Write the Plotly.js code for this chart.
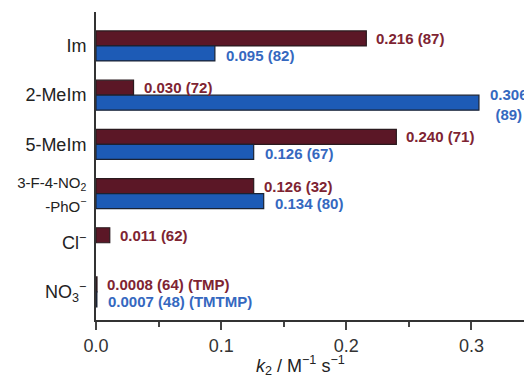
<!DOCTYPE html>
<html><head><meta charset="utf-8">
<script src="https://cdn.plot.ly/plotly-3.0.1.min.js"></script>
<style>html,body{margin:0;padding:0;background:#fff;}#chart{width:524px;height:377px;}</style>
</head><body><div id="chart"></div>
<script>
const categories = ['Im', '2-MeIm', '5-MeIm', '3-F-4-NO2-PhO-', 'Cl-', 'NO3-'];
const categoryLabels = ['Im', '2-MeIm', '5-MeIm',
  '<span style="font-size:15px">3-F-4-NO<sub>2</sub><br>-PhO<sup>−</sup></span>',
  'Cl<sup>−</sup>', 'NO<sub>3</sub><sup>−</sup>'];
const tmpValues = [0.216, 0.030, 0.240, 0.126, 0.011, 0.0008];
const tmtmpValues = [0.095, 0.306, 0.126, 0.134, null, 0.0007];
const tmpLabels = ['0.216 (87)', '0.030 (72)', '0.240 (71)', '0.126 (32)', '0.011 (62)', '0.0008 (64) (TMP)'];
const tmtmpLabels = ['0.095 (82)', '0.306<br>(89)', '0.126 (67)', '0.134 (80)', null, '0.0007 (48) (TMTMP)'];
const xTitle = '<i>k</i><sub>2</sub> / M<sup>−1</sup> s<sup>−1</sup>';

const FONT = 'Liberation Sans, Arial, Helvetica, sans-serif';
const BARGAP = 0.39;
const slot = (1 - BARGAP) / 4;

const traces = [
  {type: 'bar', orientation: 'h', name: 'TMP', y: categories, x: tmpValues,
   marker: {color: '#5b1726', line: {color: '#2a1a1e', width: 1.2}}, hoverinfo: 'skip'},
  {type: 'bar', orientation: 'h', name: 'TMTMP', y: categories, x: tmtmpValues,
   marker: {color: '#1d5bb6', line: {color: '#1a2233', width: 1.2}}, hoverinfo: 'skip'}
];

const annotations = [];
categories.forEach((c, i) => {
  if (tmpValues[i] != null && tmpLabels[i]) {
    annotations.push({x: tmpValues[i], y: i - slot, xref: 'x', yref: 'y', text: tmpLabels[i],
      showarrow: false, xanchor: 'left', yanchor: 'middle', xshift: 8, yshift: 0,
      font: {family: FONT, size: 15, color: '#7e2432', weight: 'bold'}});
  }
  if (tmtmpValues[i] != null && tmtmpLabels[i]) {
    annotations.push({x: tmtmpValues[i], y: i + slot, xref: 'x', yref: 'y', text: tmtmpLabels[i],
      showarrow: false, xanchor: 'left', yanchor: 'middle', align: 'center', xshift: 9, yshift: -2,
      font: {family: FONT, size: 15, color: '#3568bf', weight: 'bold'}});
  }
});
annotations.push({x: 0.477, y: 0, xref: 'paper', yref: 'paper', text: xTitle, showarrow: false,
  xanchor: 'center', yanchor: 'middle', yshift: -45,
  font: {family: FONT, size: 18, color: '#222'}});

const layout = {
  width: 524, height: 377,
  margin: {l: 96, r: 0, t: 12, b: 57},
  paper_bgcolor: '#fff', plot_bgcolor: '#fff',
  showlegend: false,
  barmode: 'group', bargap: BARGAP, bargroupgap: 0,
  font: {family: FONT, color: '#222'},
  xaxis: {
    range: [0, 0.342], tickmode: 'linear', tick0: 0, dtick: 0.1, tickformat: '.1f',
    ticks: 'outside', ticklen: 8, tickwidth: 2, tickcolor: '#444',
    minor: {tick0: 0, dtick: 0.05, ticks: 'outside', ticklen: 5, tickwidth: 2, tickcolor: '#444', showgrid: false},
    showgrid: false, zeroline: false, showline: true, linewidth: 2, linecolor: '#333',
    tickfont: {family: FONT, size: 18, color: '#333'},
    automargin: false, fixedrange: true
  },
  yaxis: {
    type: 'category', range: [5.57, -0.69],
    tickmode: 'array', tickvals: categories, ticktext: categoryLabels,
    ticks: 'outside', ticklen: 4, tickcolor: 'rgba(0,0,0,0)',
    showgrid: false, zeroline: false, showline: true, linewidth: 2, linecolor: '#333',
    tickfont: {family: FONT, size: 18, color: '#222'},
    automargin: false, fixedrange: true
  },
  annotations: annotations
};

Plotly.newPlot('chart', traces, layout, {staticPlot: true, displayModeBar: false});
</script></body></html>
